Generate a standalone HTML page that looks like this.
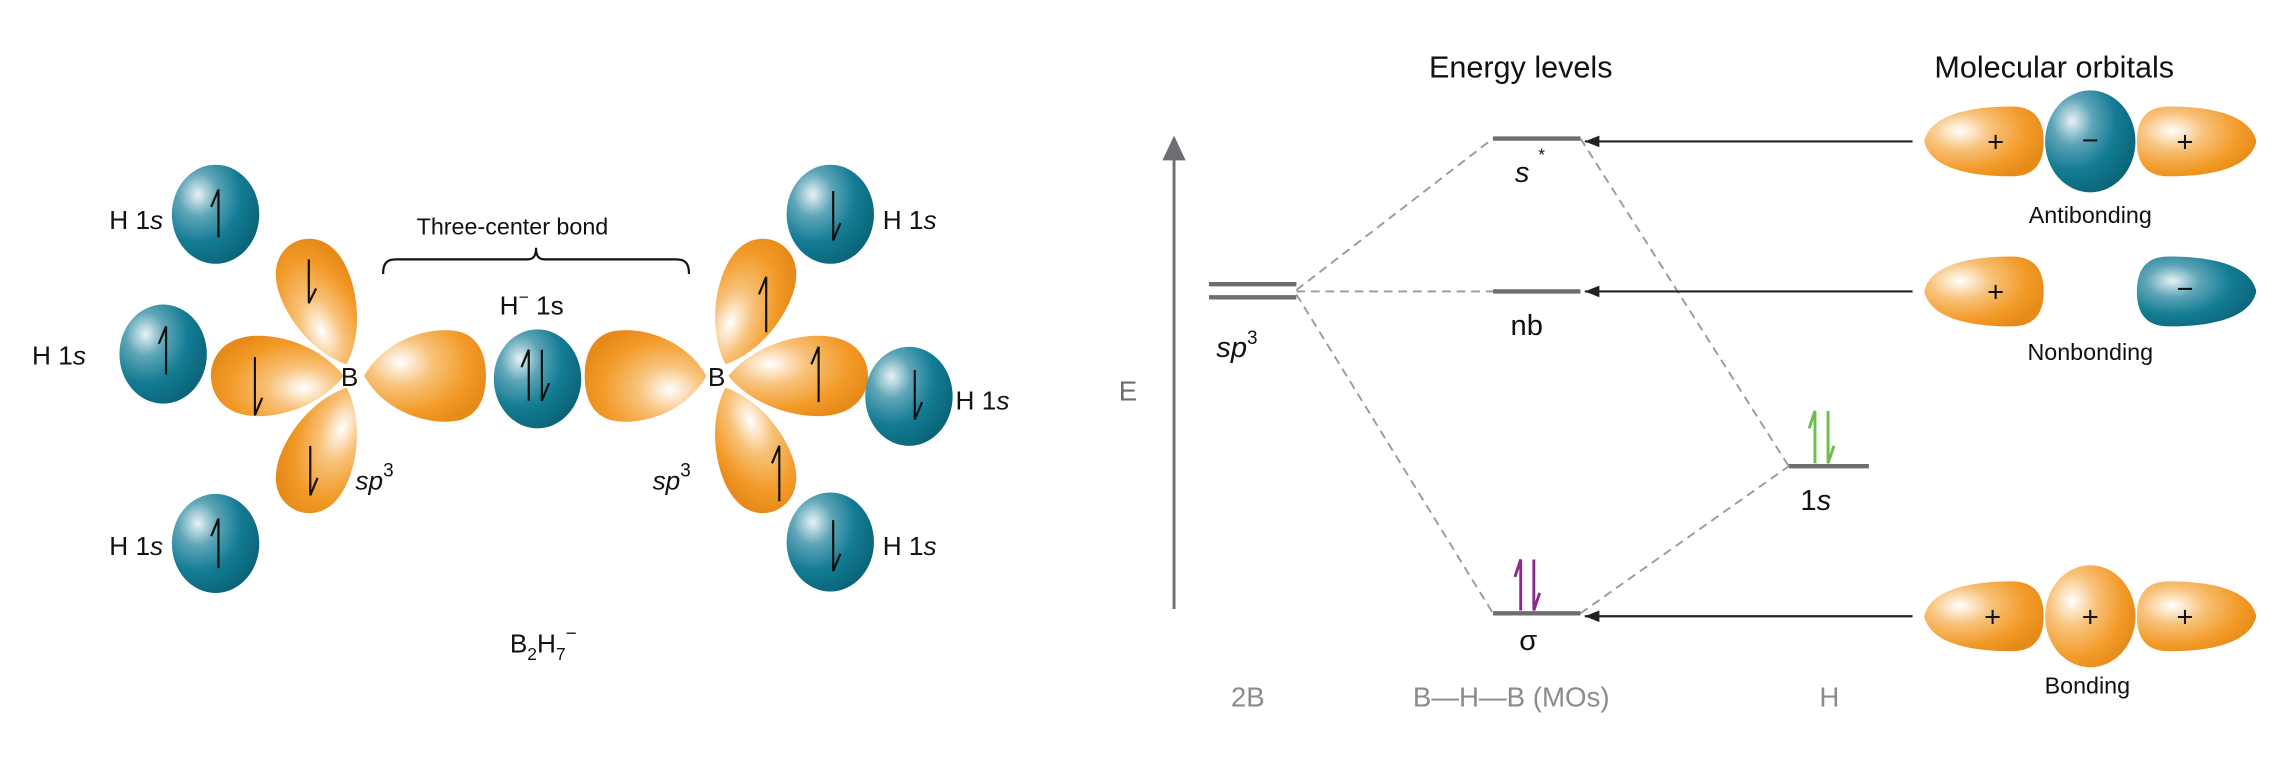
<!DOCTYPE html>
<html><head><meta charset="utf-8"><style>
html,body{margin:0;padding:0;background:#fff;}
svg{display:block;}
text{font-family:"Liberation Sans",sans-serif;}
</style></head><body>
<svg width="2284" height="781" viewBox="0 0 1568 536" xmlns="http://www.w3.org/2000/svg">
<defs>
<radialGradient id="og" cx="0.3" cy="0.35" r="0.75">
<stop offset="0" stop-color="#ffffff"/><stop offset="0.35" stop-color="#f8c27a"/><stop offset="0.75" stop-color="#f29a27"/><stop offset="1" stop-color="#e68a1a"/>
</radialGradient>
<radialGradient id="og2" cx="0.7" cy="0.65" r="0.75">
<stop offset="0" stop-color="#ffffff"/><stop offset="0.35" stop-color="#f8c27a"/><stop offset="0.75" stop-color="#f29a27"/><stop offset="1" stop-color="#e68a1a"/>
</radialGradient>
<radialGradient id="bg" cx="0.3" cy="0.3" r="0.75">
<stop offset="0" stop-color="#e8f2f5"/><stop offset="0.3" stop-color="#5ea5b8"/><stop offset="0.65" stop-color="#137c94"/><stop offset="1" stop-color="#0b6579"/>
</radialGradient>
<radialGradient id="bg2" cx="0.7" cy="0.65" r="0.75">
<stop offset="0" stop-color="#e8f2f5"/><stop offset="0.3" stop-color="#5ea5b8"/><stop offset="0.65" stop-color="#137c94"/><stop offset="1" stop-color="#0b6579"/>
</radialGradient>
<path id="lobe" d="M0,0 C18,-22 50,-30 70,-27 C90,-24 96,-10 96,0 C96,10 90,24 70,27 C50,30 18,22 0,0 Z"/>
<path id="lobeF" d="M0,0 C16,-30 50,-38 68,-34 C84,-30 88,-14 88,0 C88,14 84,30 68,34 C50,38 16,30 0,0 Z"/>
<path id="mo" d="M0,0 C4,-18 30,-24 60,-24 C78,-24 82,-12 82,0 C82,12 78,24 60,24 C30,24 4,18 0,0 Z"/>
<marker id="ah" markerWidth="10" markerHeight="8" refX="10" refY="4" orient="auto" markerUnits="userSpaceOnUse"><path d="M0,0 L10,4 L0,8 Z" fill="#222"/></marker>
</defs>

<!-- LEFT: B2H7- -->
<g fill="url(#og)">
<use href="#lobe" transform="translate(238,250) rotate(-112) scale(0.95,0.9)"/>
<use href="#lobe" transform="translate(236,258) rotate(180) scale(0.95,1)"/>
<use href="#lobe" transform="translate(238,266) rotate(112) scale(0.95,0.9)"/>
<use href="#lobeF" transform="translate(250,258) scale(0.95,0.9)"/>
<use href="#lobeF" transform="translate(485,258) rotate(180) scale(0.95,0.9)"/>
<use href="#lobe" transform="translate(498,250) rotate(-68) scale(0.95,0.9)"/>
<use href="#lobe" transform="translate(500,258) scale(1,1)"/>
<use href="#lobe" transform="translate(498,266) rotate(68) scale(0.95,0.9)"/>
</g>
<g fill="url(#bg)">
<ellipse cx="148" cy="147" rx="30" ry="34"/>
<ellipse cx="112" cy="243" rx="30" ry="34"/>
<ellipse cx="148" cy="373" rx="30" ry="34"/>
<ellipse cx="369" cy="260" rx="30" ry="34"/>
<ellipse cx="570" cy="147" rx="30" ry="34"/>
<ellipse cx="624" cy="272" rx="30" ry="34"/>
<ellipse cx="570" cy="372" rx="30" ry="34"/>
</g>
<g stroke="#111" stroke-width="1.5" fill="none">
<path d="M150,163 V130 L145,142"/>
<path d="M114,257 V224 L109,236"/>
<path d="M150,390 V356 L145,368"/>
<path d="M363,275 V240 L358,252"/>
<path d="M526,228 V190 L521,202"/>
<path d="M562,276 V238 L557,250"/>
<path d="M535,344 V306 L530,318"/>
<path d="M372,240 V275 L377,263"/>
<path d="M572,131 V165 L577,153"/>
<path d="M628,254 V288 L633,276"/>
<path d="M572,357 V392 L577,380"/>
<path d="M212,178 V208 L217,198"/>
<path d="M175,245 V285 L180,273"/>
<path d="M213,306 V340 L218,328"/>
</g>
<g font-size="18" fill="#111">
<text x="75" y="157">H 1<tspan font-style="italic">s</tspan></text>
<text x="22" y="250">H 1<tspan font-style="italic">s</tspan></text>
<text x="75" y="381">H 1<tspan font-style="italic">s</tspan></text>
<text x="606" y="157">H 1<tspan font-style="italic">s</tspan></text>
<text x="656" y="281">H 1<tspan font-style="italic">s</tspan></text>
<text x="606" y="381">H 1<tspan font-style="italic">s</tspan></text>
<text x="234" y="265">B</text>
<text x="486" y="265">B</text>
<text x="244" y="336" font-style="italic">sp<tspan font-size="13" dy="-9" font-style="normal">3</tspan></text>
<text x="448" y="336" font-style="italic">sp<tspan font-size="13" dy="-9" font-style="normal">3</tspan></text>
<text x="343" y="216">H<tspan font-size="12" dy="-8">−</tspan><tspan dy="8"> 1s</tspan></text>
<text x="286" y="161" font-size="16">Three-center bond</text>
<text x="350" y="448">B<tspan font-size="12" dy="5">2</tspan><tspan dy="-5">H</tspan><tspan font-size="12" dy="5">7</tspan><tspan font-size="13" dy="-14">−</tspan></text>
</g>
<path d="M263,188 C263,180 266,178 272,178 L362,178 C366,178 368,176 368,170 C368,176 370,178 374,178 L464,178 C470,178 473,180 473,188" stroke="#111" stroke-width="1.5" fill="none"/>

<!-- RIGHT: energy diagram -->
<line x1="806" y1="418" x2="806" y2="108" stroke="#6d6e71" stroke-width="2"/>
<path d="M798,110 L806,93 L814,110 Z" fill="#6d6e71"/>
<text x="768" y="275" font-size="19" fill="#6d6e71">E</text>
<g stroke="#6d6e71" stroke-width="3">
<line x1="830" y1="195" x2="890" y2="195"/>
<line x1="830" y1="204" x2="890" y2="204"/>
<line x1="1025" y1="95" x2="1085" y2="95"/>
<line x1="1025" y1="200" x2="1085" y2="200"/>
<line x1="1025" y1="421" x2="1085" y2="421"/>
<line x1="1228" y1="320" x2="1283" y2="320"/>
</g>
<g stroke="#9a9a9a" stroke-width="1.3" stroke-dasharray="6,4" fill="none">
<line x1="890" y1="199" x2="1025" y2="95"/>
<line x1="890" y1="200" x2="1025" y2="200"/>
<line x1="890" y1="202" x2="1025" y2="421"/>
<line x1="1085" y1="95" x2="1228" y2="320"/>
<line x1="1085" y1="421" x2="1228" y2="320"/>
</g>
<g stroke="#8a2a8c" stroke-width="2" fill="none">
<path d="M1044,419 V384 L1040,396"/>
<path d="M1053,384 V419 L1057,407"/>
</g>
<g stroke="#6cc04a" stroke-width="2" fill="none">
<path d="M1246,318 V282 L1242,294"/>
<path d="M1255,282 V318 L1259,306"/>
</g>
<g fill="#111" font-size="20">
<text x="1040" y="125" font-style="italic">s</text>
<text x="1056" y="110" font-size="12">*</text>
<text x="1037" y="230">nb</text>
<text x="1043" y="446" font-family="Liberation Serif">σ</text>
<text x="1236" y="350">1<tspan font-style="italic">s</tspan></text>
<text x="835" y="245" font-style="italic">sp<tspan font-size="13" dy="-9" font-style="normal">3</tspan></text>
<text x="981" y="53" font-size="21">Energy levels</text>
<text x="1328" y="53" font-size="21">Molecular orbitals</text>
</g>
<g fill="#8a8b8d" font-size="19">
<text x="845" y="485">2B</text>
<text x="970" y="485">B—H—B (MOs)</text>
<text x="1249" y="485">H</text>
</g>
<g stroke="#222" stroke-width="1.5">
<line x1="1313" y1="97" x2="1088" y2="97" marker-end="url(#ah)"/>
<line x1="1313" y1="200" x2="1088" y2="200" marker-end="url(#ah)"/>
<line x1="1313" y1="423" x2="1088" y2="423" marker-end="url(#ah)"/>
</g>
<!-- MO pictures -->
<use href="#mo" transform="translate(1321,97)" fill="url(#og)"/>
<use href="#mo" transform="translate(1549,97) rotate(180)" fill="url(#og2)"/>
<use href="#mo" transform="translate(1321,200)" fill="url(#og)"/>
<use href="#mo" transform="translate(1321,423)" fill="url(#og)"/>
<use href="#mo" transform="translate(1549,423) rotate(180)" fill="url(#og2)"/>
<ellipse cx="1435" cy="423" rx="31" ry="35" fill="url(#og)"/>
<ellipse cx="1435" cy="97" rx="31" ry="35" fill="url(#bg)"/>
<use href="#mo" transform="translate(1549,200) rotate(180)" fill="url(#bg2)"/>
<g fill="#111" font-size="20" text-anchor="middle">
<text x="1370" y="104">+</text>
<text x="1435" y="103">−</text>
<text x="1500" y="104">+</text>
<text x="1370" y="207">+</text>
<text x="1500" y="205">−</text>
<text x="1368" y="430">+</text>
<text x="1435" y="430">+</text>
<text x="1500" y="430">+</text>
</g>
<g fill="#111" font-size="16" text-anchor="middle">
<text x="1435" y="153">Antibonding</text>
<text x="1435" y="247">Nonbonding</text>
<text x="1433" y="476">Bonding</text>
</g>
</svg>
</body></html>
